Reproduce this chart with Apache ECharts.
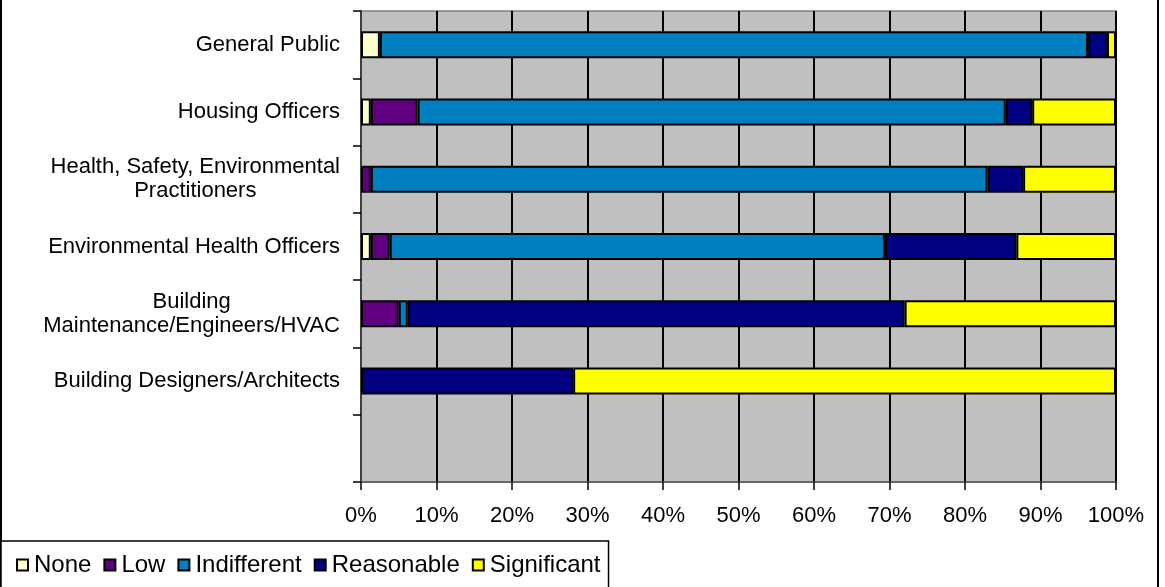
<!DOCTYPE html>
<html>
<head>
<meta charset="utf-8">
<script src="https://cdn.jsdelivr.net/npm/echarts@6/dist/echarts.min.js"></script>
<style>
	html, body { margin: 0; padding: 0; background: #fff; }
	#canvas { width: 1165px; height: 587px; }
</style>
</head>
<body>
<div id="canvas"></div>
<script>
// categories, top to bottom (last slot is empty in the original)
var categories = [
	'General Public',
	'Housing Officers',
	'Health, Safety, Environmental\nPractitioners',
	'Environmental Health Officers',
	'Building\nMaintenance/Engineers/HVAC',
	'Building Designers/Architects',
	''
];
var seriesNames = ['None', 'Low', 'Indifferent', 'Reasonable', 'Significant'];
var noneVals        = [2.5, 1.3, 0,    1.3,  0,    0,    null];
var lowVals         = [0,   6.2, 1.3,  2.5,  5.0,  0,    null];
var indifferentVals = [93.8, 77.9, 81.7, 65.6, 1.2, 0,   null];
var reasonableVals  = [2.5, 3.5, 4.7,  17.4, 65.8, 28.1, null];
var significantVals = [1.2, 11.1, 12.3, 13.2, 28.0, 71.9, null];
var xTicks = [0, 10, 20, 30, 40, 50, 60, 70, 80, 90, 100];

var colors = ['#FFFFCC', '#600080', '#0080C0', '#000080', '#FFFF00'];
var allVals = [noneVals, lowVals, indifferentVals, reasonableVals, significantVals];
var font = 'Liberation Sans, Arial, sans-serif';

var myChart = echarts.init(document.getElementById('canvas'));

var series = seriesNames.map(function(name, i){
	return {
		name: name,
		type: 'bar',
		stack: 'total',
		barWidth: 27,
		// zero segments are skipped so no empty outline is drawn
		data: allVals[i].map(function(v){ return v ? v : '-'; }),
		itemStyle: { color: colors[i], borderColor: '#000', borderWidth: 2 }
	};
});

var option = {
	animation: false,
	backgroundColor: '#fff',
	graphic: [{
		type: 'rect',
		shape: { x: 1, y: -2, width: 1157, height: 600 },
		style: { fill: 'none', stroke: '#000', lineWidth: 2 },
		z: -10
	}],
	legend: {
		left: 1,
		top: 541,
		padding: [12, 8, 14, 15],
		itemGap: 12,
		itemWidth: 11,
		itemHeight: 11,
		icon: 'rect',
		backgroundColor: '#fff',
		borderColor: '#000',
		borderWidth: 1.5,
		textStyle: { fontSize: 24, fontFamily: font, color: '#000', padding: [0, 0, 0, 1] },
		data: seriesNames
	},
	grid: {
		left: 361,
		right: 49,
		top: 11,
		bottom: 105,
		show: true,
		backgroundColor: '#C0C0C0',
		borderColor: '#808080',
		borderWidth: 1.5
	},
	xAxis: {
		type: 'value',
		min: xTicks[0],
		max: xTicks[xTicks.length - 1],
		interval: 10,
		axisLine: { show: true, lineStyle: { color: '#555', width: 1.5 } },
		axisTick: { show: true, length: 8, lineStyle: { color: '#000', width: 1.5 } },
		axisLabel: { fontSize: 22, fontFamily: font, color: '#000', margin: 23, formatter: '{value}%' },
		splitLine: { show: true, lineStyle: { color: '#000', width: 2 } }
	},
	yAxis: {
		type: 'category',
		inverse: true,
		data: categories,
		axisLine: { show: true, lineStyle: { color: '#555', width: 1.5 } },
		axisTick: { show: true, length: 8, lineStyle: { color: '#000', width: 1.5 } },
		axisLabel: {
			margin: 21,
			align: 'right',
			formatter: function(v){
				if (!v) return '';
				return v.split('\n').map(function(s){ return '{c|' + s + '}'; }).join('\n');
			},
			rich: {
				c: { align: 'center', fontSize: 22, lineHeight: 24, fontFamily: font, color: '#000' }
			}
		},
		splitLine: { show: false }
	},
	series: series
};

myChart.setOption(option);
</script>
</body>
</html>
